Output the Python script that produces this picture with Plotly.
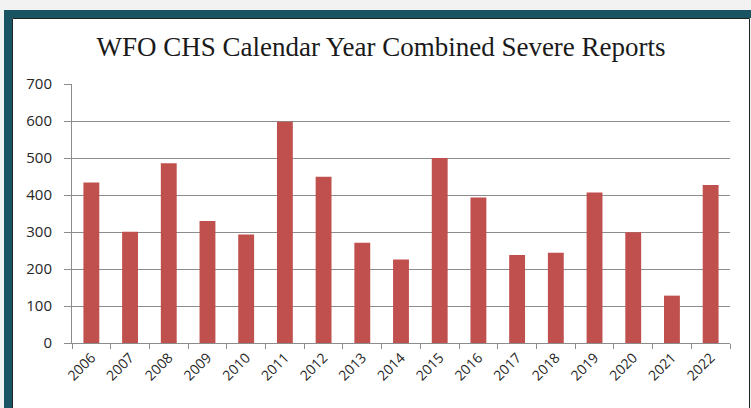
import plotly.graph_objects as go

years = ["2006", "2007", "2008", "2009", "2010", "2011", "2012", "2013", "2014",
         "2015", "2016", "2017", "2018", "2019", "2020", "2021", "2022"]
reports = [434, 301, 486, 330, 293, 598, 449, 271, 226, 500, 393, 238, 244, 407, 299, 128, 427]
y_ticks = [0, 100, 200, 300, 400, 500, 600, 700]

W, H = 751, 408
L, R, T, B = 72, 730, 84, 343


def px(x):
    return (x - L) / (R - L)


def py(y):
    return (B - y) / (B - T)


fig = go.Figure(go.Bar(x=years, y=reports, marker_color="#c0504d", marker_line_width=0))

shapes = [
    dict(type="rect", xref="paper", yref="paper", x0=px(12), x1=px(749), y0=py(18), y1=py(420),
         fillcolor="white", line_width=0, layer="below"),
    dict(type="rect", xref="paper", yref="paper", x0=px(4), x1=px(760), y0=py(10), y1=py(18),
         fillcolor="#185461", line_width=0, layer="below"),
    dict(type="rect", xref="paper", yref="paper", x0=px(4), x1=px(12), y0=py(10), y1=py(420),
         fillcolor="#185461", line_width=0, layer="below"),
    dict(type="rect", xref="paper", yref="paper", x0=px(12.5), x1=px(749.5), y0=py(18.5), y1=py(430),
         fillcolor="rgba(0,0,0,0)", line=dict(color="#222222", width=1), layer="below"),
]

fig.update_layout(
    width=W, height=H,
    margin=dict(l=L, r=W - R, t=T, b=H - B, pad=0),
    paper_bgcolor="#f2f2f2",
    plot_bgcolor="white",
    bargap=0.59,
    showlegend=False,
    shapes=shapes,
    title=dict(text="WFO CHS Calendar Year Combined Severe Reports",
               font=dict(family="Liberation Serif", size=27, color="#1a1a1a"),
               xref="container", yref="container",
               x=381 / W, xanchor="center", y=1 - 47 / H, yanchor="middle"),
    font=dict(family="Open Sans", size=14, color="#262626"),
)

fig.update_xaxes(
    type="category", tickangle=-45, showgrid=False,
    showline=True, linecolor="#8c8c8c", linewidth=1,
    ticks="outside", tickson="boundaries", ticklen=5, tickcolor="#8c8c8c",
    tickfont=dict(family="Open Sans", size=14, color="#262626"),
)
fig.update_yaxes(
    range=[0, 700], tickvals=y_ticks, showgrid=True, gridcolor="#8c8c8c", gridwidth=1,
    showline=True, linecolor="#8c8c8c", linewidth=1, zeroline=False,
    ticks="outside", ticklen=7, tickcolor="#8c8c8c", ticklabelstandoff=9,
    tickfont=dict(family="Open Sans", size=15, color="#262626"),
)

fig.write_html("out.html")
